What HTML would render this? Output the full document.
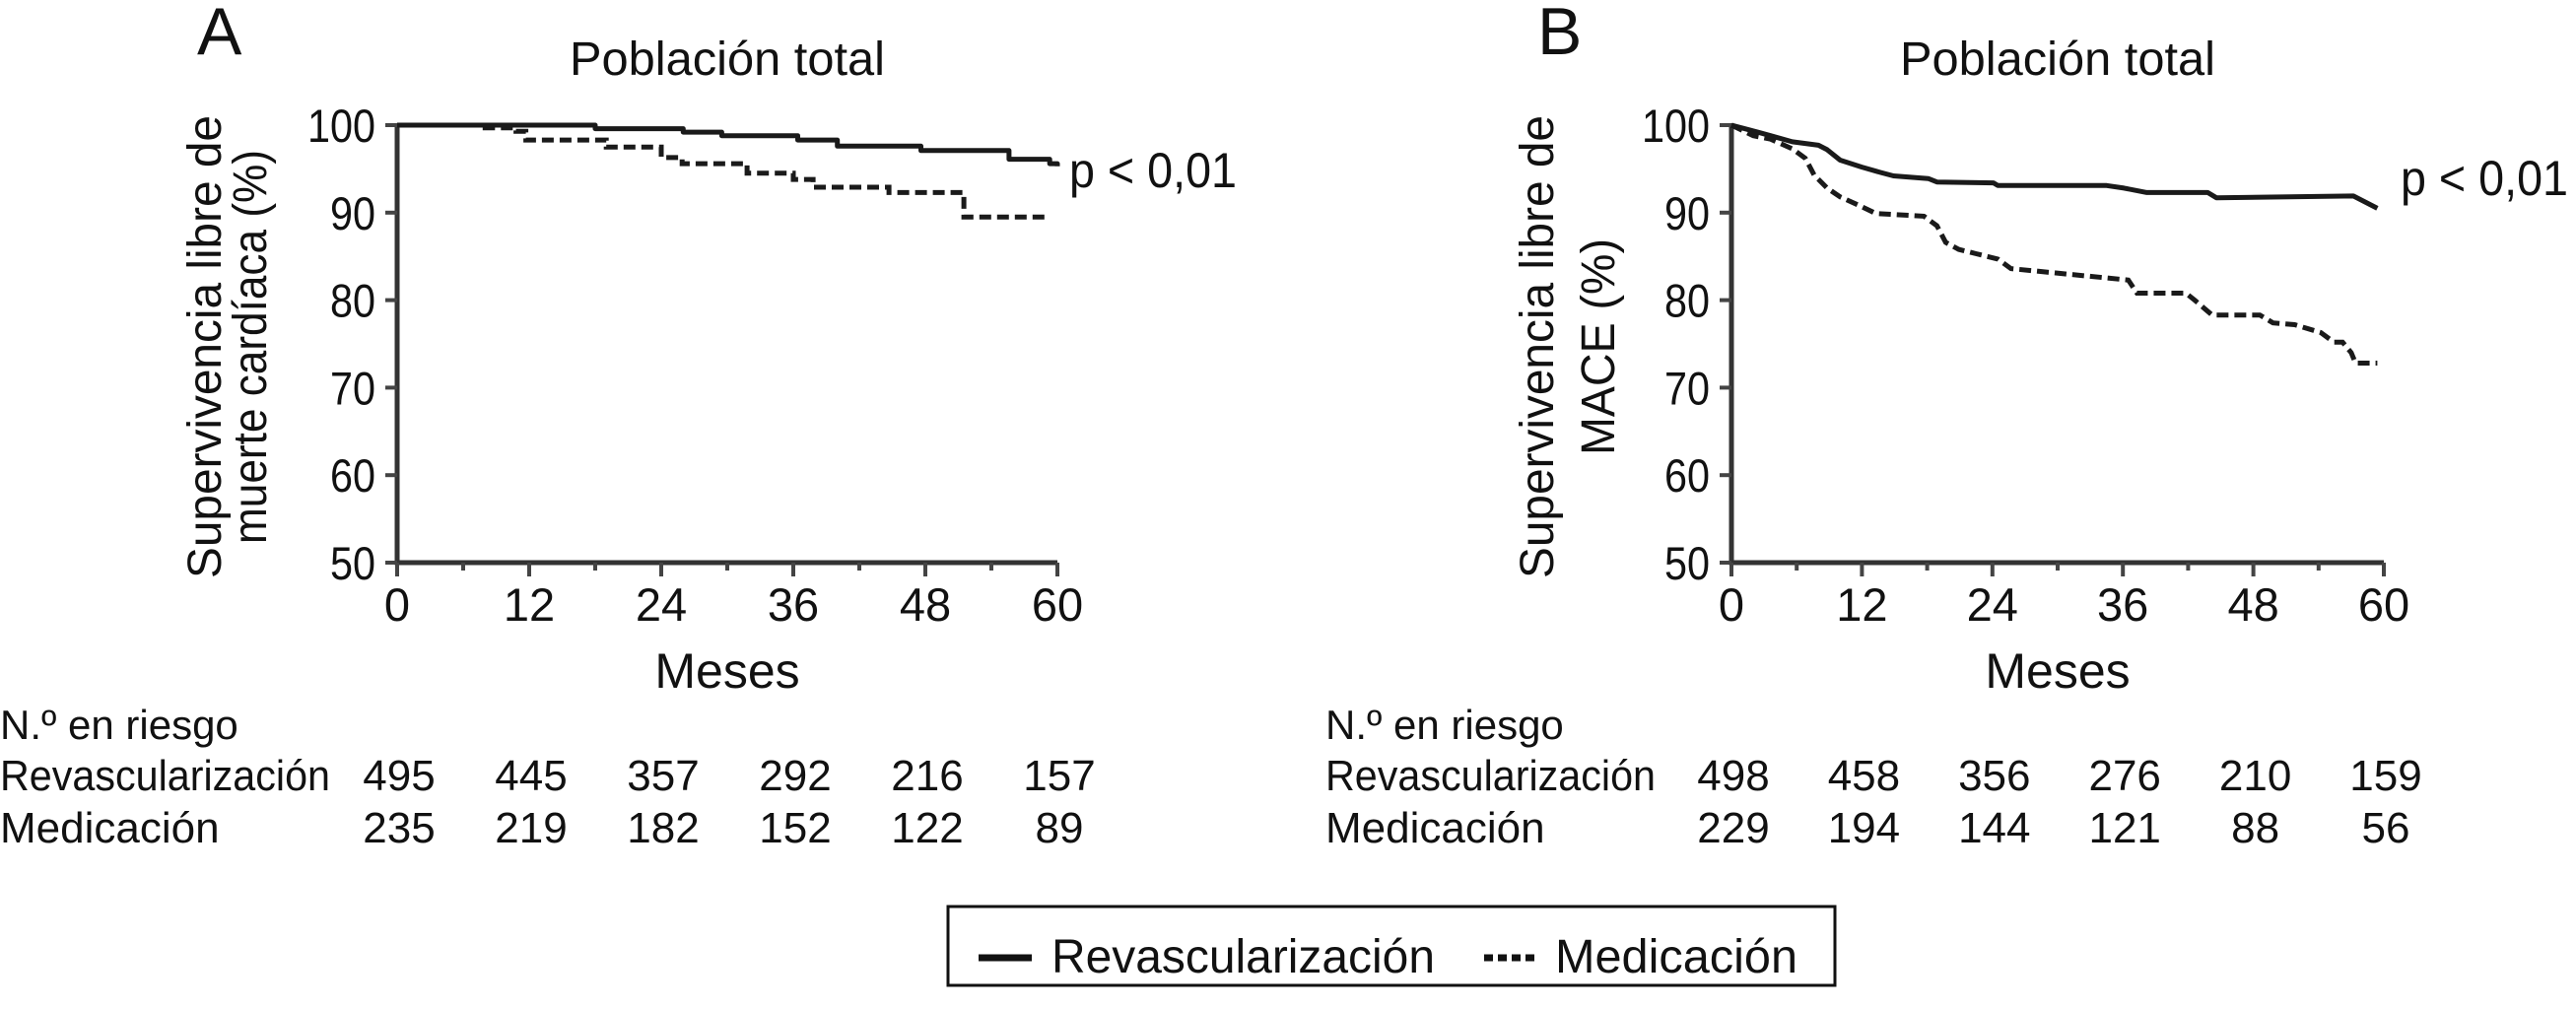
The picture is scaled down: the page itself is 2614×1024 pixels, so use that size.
<!DOCTYPE html>
<html><head><meta charset="utf-8"><style>
html,body{margin:0;padding:0;background:#fff;}
svg{display:block;font-family:"Liberation Sans Narrow","Liberation Sans",sans-serif;fill:#111;}
</style></head><body>
<svg id="chart" width="2614" height="1024" viewBox="0 0 2614 1024" xmlns="http://www.w3.org/2000/svg">
<rect width="2614" height="1024" fill="#fff"/>
<g id="panelA"></g>
<g id="panelB"></g>
<g>
<rect x="962" y="920" width="900" height="80" fill="none" stroke="#111" stroke-width="3"/>
<line x1="993" y1="972" x2="1047" y2="972" stroke="#111" stroke-width="7"/>
<text x="1067" y="987" font-size="48" textLength="389" lengthAdjust="spacingAndGlyphs">Revascularización</text>
<line x1="1506" y1="972" x2="1557" y2="972" stroke="#111" stroke-width="7" stroke-dasharray="9,5"/>
<text x="1578" y="987" font-size="48" textLength="246" lengthAdjust="spacingAndGlyphs">Medicación</text>
</g>
</svg>
<script>
const monthTicks = [0, 12, 24, 36, 48, 60];
const valueTicks = [50, 60, 70, 80, 90, 100];
const aRevMonths = [0, 18, 26, 29.5, 36.4, 40, 47.6, 55.6, 59.3, 60];
const aRevValues = [100, 99.6, 99.2, 98.8, 98.3, 97.6, 97.1, 96.1, 95.6, 95.3];
const aMedMonths = [0, 8, 10.8, 11.7, 19, 24, 25.9, 31.8, 36, 37.8, 44.7, 51.5, 59.3];
const aMedValues = [100, 99.7, 99.3, 98.3, 97.5, 96.3, 95.6, 94.5, 93.8, 92.9, 92.3, 89.5, 89.5];
const bRevMonths = [0, 2.4, 3.6, 5.6, 8, 8.8, 10, 12, 13.7, 14.9, 18.1, 18.9, 24.1, 24.5, 34.5, 36.1, 38.2, 43.8, 44.6, 57.2, 59.4];
const bRevValues = [100, 99.2, 98.8, 98.1, 97.7, 97.2, 96.0, 95.2, 94.6, 94.2, 93.9, 93.5, 93.4, 93.1, 93.1, 92.8, 92.3, 92.3, 91.7, 91.9, 90.5];
const bMedMonths = [0, 2, 3.6, 5.6, 6.8, 7.6, 8.8, 10, 11.6, 13.3, 17.7, 18.9, 19.7, 20.9, 22.5, 24.5, 25.7, 36.5, 37.3, 41.8, 42.6, 44.2, 48.6, 49.8, 51.8, 54.2, 55.4, 56.2, 57, 57.4, 59.4];
const bMedValues = [100, 98.8, 98.4, 97.3, 96.2, 94.3, 92.8, 91.8, 90.9, 89.9, 89.6, 88.5, 86.6, 85.8, 85.3, 84.7, 83.6, 82.3, 80.8, 80.8, 80.0, 78.3, 78.3, 77.4, 77.2, 76.3, 75.2, 75.2, 74.0, 72.8, 72.8];
const aRiskRev = ["495", "445", "357", "292", "216", "157"];
const aRiskMed = ["235", "219", "182", "152", "122", "89"];
const bRiskRev = ["498", "458", "356", "276", "210", "159"];
const bRiskMed = ["229", "194", "144", "121", "88", "56"];

const NS = "http://www.w3.org/2000/svg";
function mk(parent, tag, attrs, text) {
  const e = document.createElementNS(NS, tag);
  for (const k in attrs) e.setAttribute(k, attrs[k]);
  if (text !== undefined) e.textContent = text;
  parent.appendChild(e);
  return e;
}

function panel(g, cfg) {
  const x = m => cfg.x0 + (m / 60) * (cfg.x1 - cfg.x0);
  const y = v => cfg.y0 - ((v - 50) / 50) * (cfg.y0 - cfg.y1);
  let t;
  t = mk(g, "text", {x: cfg.letterX, y: 55, "font-size": 68}, cfg.letter);
  
  
  t = mk(g, "text", {x: (cfg.x0 + cfg.x1) / 2, y: 76, "font-size": 48, "text-anchor": "middle", textLength: 320, lengthAdjust: "spacingAndGlyphs"}, "Población total");
  
  
  let l = mk(g, "path", {d: `M${cfg.x0} ${cfg.y1 - 2} V${cfg.y0} H${cfg.x1}`, fill: "none", stroke: "#333", "stroke-width": 5});
  
  
  valueTicks.forEach(v => {
    const tk = mk(g, "line", {x1: cfg.x0 - 12, x2: cfg.x0, y1: y(v), y2: y(v), stroke: "#444", "stroke-width": 4});
    
    
    const lb = mk(g, "text", {x: cfg.x0 - 22, y: y(v) + 17, "font-size": 47, "text-anchor": "end", textLength: String(v).length * 23, lengthAdjust: "spacingAndGlyphs"}, String(v));
    
    
  });
  for (let m = 0; m <= 60; m += 6) {
    const tk = mk(g, "line", {x1: x(m), x2: x(m), y1: cfg.y0, y2: cfg.y0 + (m % 12 === 0 ? 14 : 8), stroke: "#444", "stroke-width": 4});
    
    
  }
  monthTicks.forEach(m => {
    const lb = mk(g, "text", {x: x(m), y: 630, "font-size": 47, "text-anchor": "middle"}, String(m));
    
    
  });
  t = mk(g, "text", {x: (cfg.x0 + cfg.x1) / 2, y: 698, "font-size": 50, "text-anchor": "middle"}, "Meses");
  
  
  cfg.ytitle.forEach((line, i) => {
    const tx = cfg.ytitleX[i];
    const yt = mk(g, "text", {x: tx, y: 352, "font-size": 48, "text-anchor": "middle", transform: `rotate(-90 ${tx} 352)`, textLength: cfg.ytitleLen[i], lengthAdjust: "spacingAndGlyphs"}, line);
    
    
  });
  const pts = (ms, vs) => {
    if (!cfg.step) return ms.map((m, i) => `${x(m).toFixed(1)},${y(vs[i]).toFixed(1)}`).join(" ");
    const out = [];
    ms.forEach((m, i) => {
      if (i > 0) out.push(`${x(m).toFixed(1)},${y(vs[i - 1]).toFixed(1)}`);
      out.push(`${x(m).toFixed(1)},${y(vs[i]).toFixed(1)}`);
    });
    return out.join(" ");
  };
  const s1 = mk(g, "polyline", {points: pts(cfg.revM, cfg.revV), fill: "none", stroke: "#1a1a1a", "stroke-width": 5, "stroke-linejoin": "round"});
  
  
  const s2 = mk(g, "polyline", {points: pts(cfg.medM, cfg.medV), fill: "none", stroke: "#1a1a1a", "stroke-width": 5, "stroke-dasharray": "12,6"});
  
  
  t = mk(g, "text", {x: cfg.pX, y: cfg.pY, "font-size": 50, textLength: 170, lengthAdjust: "spacingAndGlyphs"}, "p < 0,01");
  
  
  t = mk(g, "text", {x: cfg.tableX, y: 750, "font-size": 42}, "N.º en riesgo");
  
  
  t = mk(g, "text", {x: cfg.tableX, y: 802, "font-size": 44, textLength: 335, lengthAdjust: "spacingAndGlyphs"}, "Revascularización");
  
  
  t = mk(g, "text", {x: cfg.tableX, y: 855, "font-size": 44}, "Medicación");
  
  
  monthTicks.forEach((m, i) => {
    const a = mk(g, "text", {x: x(m) + 2, y: 802, "font-size": 44, "text-anchor": "middle"}, cfg.riskRev[i]);
    
    
    const b = mk(g, "text", {x: x(m) + 2, y: 855, "font-size": 44, "text-anchor": "middle"}, cfg.riskMed[i]);
    
    
  });
}

panel(document.getElementById("panelA"), {
  x0: 403, x1: 1073, y0: 571, y1: 127, letter: "A", letterX: 200, step: true,
  ytitle: ["Supervivencia libre de", "muerte cardíaca (%)"], ytitleX: [224, 270], ytitleLen: [470, 400],
  revM: aRevMonths, revV: aRevValues, medM: aMedMonths, medV: aMedValues,
  pX: 1085, pY: 190, tableX: 0, riskRev: aRiskRev, riskMed: aRiskMed
});
panel(document.getElementById("panelB"), {
  x0: 1757, x1: 2419, y0: 571, y1: 127, letter: "B", letterX: 1560, step: false,
  ytitle: ["Supervivencia libre de", "MACE (%)"], ytitleX: [1576, 1638], ytitleLen: [470, 220],
  revM: bRevMonths, revV: bRevValues, medM: bMedMonths, medV: bMedValues,
  pX: 2436, pY: 198, tableX: 1345, riskRev: bRiskRev, riskMed: bRiskMed
});
</script>
</body></html>
